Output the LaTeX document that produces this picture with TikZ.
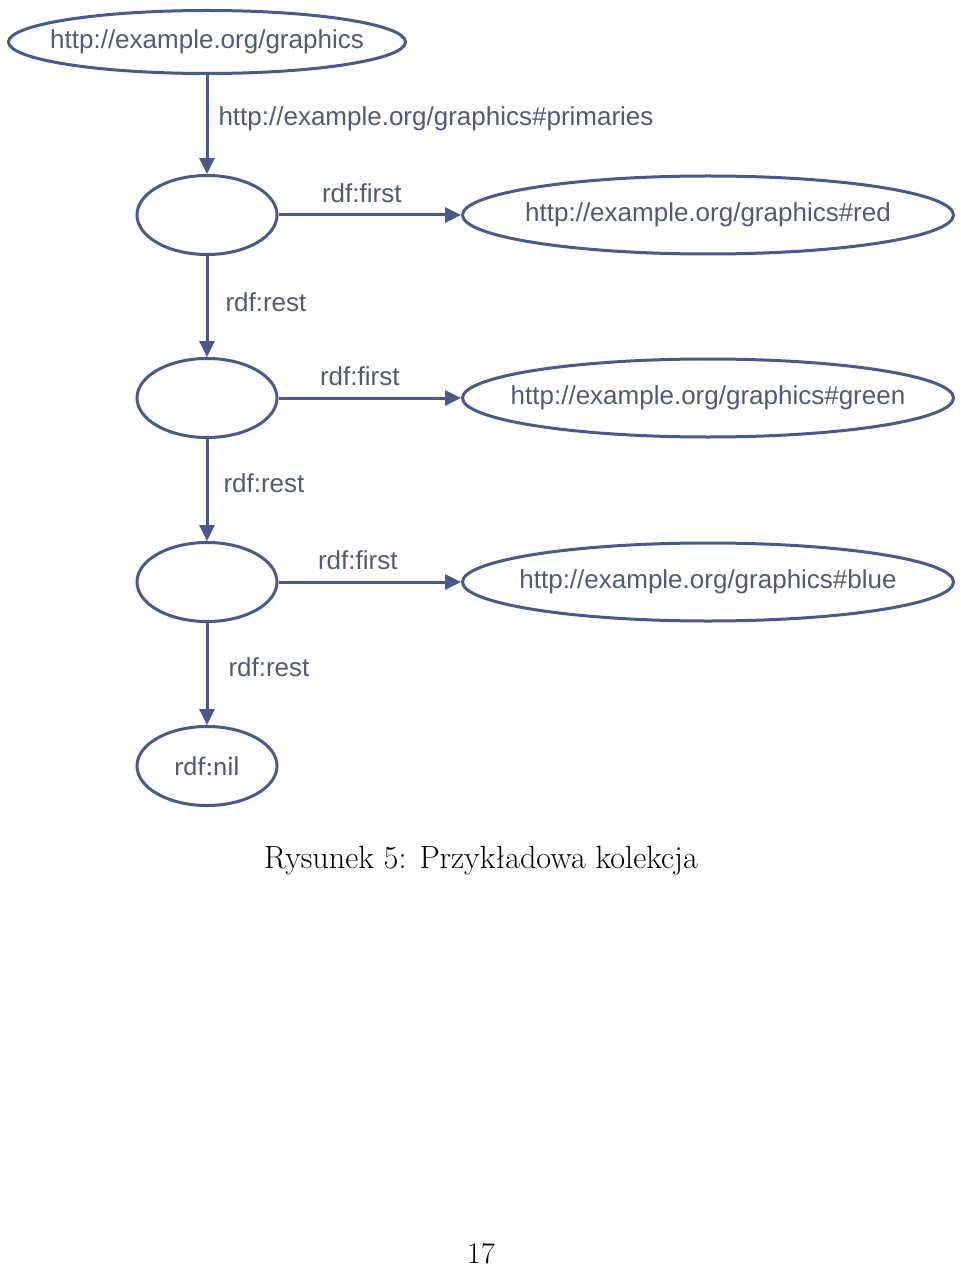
\documentclass[tikz,border=0pt]{standalone}
\usepackage{fontspec}
\setsansfont{Liberation Sans}
\newfontfamily\calibri{Carlito}
\usetikzlibrary{shapes.geometric,arrows.meta}
\definecolor{rdfline}{RGB}{72,90,140}
\definecolor{rdftext}{RGB}{80,90,120}
\newcommand{\inside}[1]{\makebox[0pt]{#1}}

\begin{document}
\begin{tikzpicture}[%
  x = 0.5pt, y = -0.5pt,
  res/.style = {ellipse, draw = rdfline, line width = 1.5pt, inner sep = 0pt,
    text = rdftext, font = \sffamily\fontsize{13}{15}\selectfont},
  blank/.style = {res, minimum width = 70pt, minimum height = 39.5pt},
  uri/.style = {res, minimum width = 245.5pt, minimum height = 39pt},
  prop/.style = {text = rdftext, inner sep = 0pt, font = \sffamily\fontsize{13}{15}\selectfont},
  link/.style = {draw = rdfline, line width = 1.5pt, -{Triangle[length = 8pt, width = 7.5pt]}}]
  \useasboundingbox (0, 0) rectangle (960, 1267);

  \node[res, minimum width = 198.5pt, minimum height = 31.5pt] (graph) at (207, 42)
    {\inside{http://example.org/graphics}};
  \node[blank] (list1) at (207, 215) {};
  \node[blank] (list2) at (207, 398) {};
  \node[blank] (list3) at (207, 582) {};
  \node[blank, font = \calibri\fontsize{13.5}{15}\selectfont] (nil) at (207, 766) {rdf:nil};
  \node[uri] (red)   at (708, 215) {\inside{http://example.org/graphics\#red}};
  \node[uri] (green) at (708, 398) {\inside{http://example.org/graphics\#green}};
  \node[uri] (blue)  at (708, 582) {\inside{http://example.org/graphics\#blue}};

  \draw[link] (graph) -- (list1) node[prop, pos = 0.44, right = 5pt] {http://example.org/graphics\#primaries};
  \draw[link] (list1) -- (red) node[prop, midway, above = 5.3pt, xshift = -4pt] {rdf:first};
  \draw[link] (list2) -- (green) node[prop, midway, above = 5.3pt, xshift = -5pt] {rdf:first};
  \draw[link] (list3) -- (blue) node[prop, midway, above = 5.3pt, xshift = -6pt] {rdf:first};
  \draw[link] (list1) -- (list2) node[prop, pos = 0.46, right = 8.5pt] {rdf:rest};
  \draw[link] (list2) -- (list3) node[prop, pos = 0.43, right = 7.5pt] {rdf:rest};
  \draw[link] (list3) -- (nil) node[prop, pos = 0.43, right = 10pt] {rdf:rest};

  \node[font = \rmfamily\fontsize{16.1}{19}\selectfont] (caption) at (481, 861) {Rysunek 5: Przykładowa kolekcja};
  \node[font = \rmfamily\fontsize{15}{18}\selectfont, inner sep = 0pt] (pagenum) at (481, 1254) {17};
\end{tikzpicture}
\end{document}
